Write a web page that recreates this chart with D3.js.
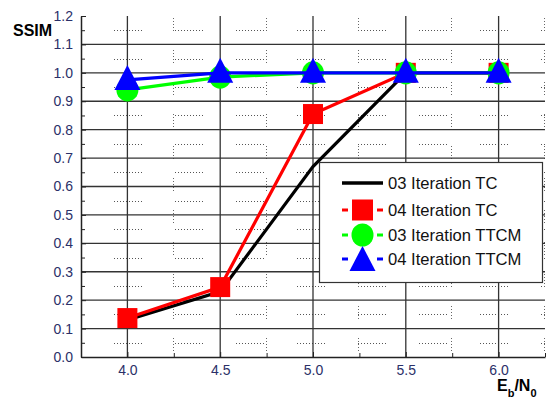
<!DOCTYPE html>
<html>
<head>
<meta charset="utf-8">
<script src="https://cdn.jsdelivr.net/npm/d3@7"></script>
<style>
  body { margin: 0; background: #fff; }
  svg { display: block; font-family: "Liberation Sans", Arial, sans-serif; }
  .tick text { fill: #2b3068; font-size: 14px; }
</style>
</head>
<body>
<script>
const ebno = [4.0, 4.5, 5.0, 5.5, 6.0];
const tc03 = [0.13, 0.23, 0.67, 1.0, 1.0];
const tc04 = [0.137, 0.246, 0.855, 1.0, 1.0];
const ttcm03 = [0.94, 0.985, 1.0, 1.0, 1.0];
const ttcm04 = [0.975, 1.0, 1.0, 1.0, 1.0];

const xMajor = [4.0, 4.5, 5.0, 5.5, 6.0];
const xMinor = [4.25, 4.75, 5.25, 5.75, 6.25];
const yMajor = [0, 0.1, 0.2, 0.3, 0.4, 0.5, 0.6, 0.7, 0.8, 0.9, 1.0, 1.1, 1.2];
const yMinor = [0.05, 0.15, 0.25, 0.35, 0.45, 0.55, 0.65, 0.75, 0.85, 0.95, 1.05, 1.15];

const series = [
  { name: "03 Iteration TC", values: tc03, color: "#000000", marker: null },
  { name: "04 Iteration TC", values: tc04, color: "#ff0000", marker: "square" },
  { name: "03 Iteration TTCM", values: ttcm03, color: "#00ff00", marker: "circle" },
  { name: "04 Iteration TTCM", values: ttcm04, color: "#0000ff", marker: "triangle" }
];

const W = 548, H = 398;
const padL = 81, padR = 545, padT = 16, padB = 357;

const svg = d3.select("body").append("svg")
  .attr("width", W)
  .attr("height", H);

const x = d3.scaleLinear().domain([3.75, 6.25]).range([padL, padR]);
const y = d3.scaleLinear().domain([0, 1.2]).range([padB, padT]);

// dotted minor grid, drawn as groups of dots
const hDash = d3.range(9).map(() => "1,2").join(",") + ",1,33";
const vDash = d3.range(4).map(() => "1,2").join(",") + ",1,19";

svg.append("g")
  .selectAll("line")
  .data(yMinor)
  .join("line")
  .attr("x1", padL)
  .attr("x2", padR)
  .attr("y1", d => Math.round(y(d)) + 0.5)
  .attr("y2", d => Math.round(y(d)) + 0.5)
  .attr("stroke", "#555")
  .attr("stroke-dasharray", hDash)
  .attr("stroke-dashoffset", 28);

svg.append("g")
  .selectAll("line")
  .data(xMinor)
  .join("line")
  .attr("x1", d => Math.round(x(d)) - 0.5)
  .attr("x2", d => Math.round(x(d)) - 0.5)
  .attr("y1", padT)
  .attr("y2", padB)
  .attr("stroke", "#666")
  .attr("stroke-dasharray", vDash)
  .attr("stroke-dashoffset", 30);

// solid major grid
svg.append("g")
  .selectAll("line")
  .data(yMajor.filter(d => d > 0 && d < 1.2))
  .join("line")
  .attr("x1", padL)
  .attr("x2", padR)
  .attr("y1", d => y(d))
  .attr("y2", d => y(d))
  .attr("stroke", "#333")
  .attr("stroke-width", 1.3);

svg.append("g")
  .selectAll("line")
  .data(xMajor)
  .join("line")
  .attr("x1", d => x(d))
  .attr("x2", d => x(d))
  .attr("y1", padT)
  .attr("y2", padB)
  .attr("stroke", "#333")
  .attr("stroke-width", 1.3);

// axes
const yAxis = svg.append("g")
  .attr("transform", `translate(${padL},0)`)
  .call(d3.axisLeft(y).tickValues(yMajor).tickFormat(d3.format(".1f")).tickSize(-5).tickSizeOuter(0).tickPadding(8));
yAxis.select(".domain").attr("stroke", "#222").attr("stroke-width", 1.5);

svg.append("g")
  .attr("transform", `translate(${padL},0)`)
  .call(d3.axisLeft(y).tickValues(yMinor).tickFormat("").tickSize(-4).tickSizeOuter(0))
  .call(g => g.select(".domain").remove());

const xAxis = svg.append("g")
  .attr("transform", `translate(0,${padB})`)
  .call(d3.axisBottom(x).tickValues(xMajor).tickFormat(d3.format(".1f")).tickSize(-5).tickSizeOuter(0).tickPadding(8));
xAxis.select(".domain").attr("stroke", "#222").attr("stroke-width", 1.5);

svg.append("g")
  .attr("transform", `translate(0,${padB})`)
  .call(d3.axisBottom(x).tickValues(xMinor).tickFormat("").tickSize(-4).tickSizeOuter(0))
  .call(g => g.select(".domain").remove());

svg.selectAll(".tick line").attr("stroke", "#222");

// marker shapes
function drawMarker(g, type, cx, cy, color, s) {
  if (type === "square") {
    g.append("rect")
      .attr("x", cx - s.sq / 2).attr("y", cy - s.sq / 2)
      .attr("width", s.sq).attr("height", s.sq)
      .attr("fill", color);
  } else if (type === "circle") {
    g.append("ellipse")
      .attr("cx", cx).attr("cy", cy)
      .attr("rx", s.cr).attr("ry", s.cr * 1.05)
      .attr("fill", color);
  } else if (type === "triangle") {
    const w = s.tw, h = s.th;
    g.append("path")
      .attr("d", `M${cx},${cy - h * 0.6}L${cx + w / 2},${cy + h * 0.4}L${cx - w / 2},${cy + h * 0.4}Z`)
      .attr("fill", color);
  }
}

const line = d3.line()
  .x((d, i) => x(ebno[i]))
  .y(d => y(d));

const plotSize = { sq: 20, cr: 11, tw: 26, th: 25 };

series.forEach(s => {
  const g = svg.append("g");
  g.append("path")
    .datum(s.values)
    .attr("d", line)
    .attr("fill", "none")
    .attr("stroke", s.color)
    .attr("stroke-width", 3.2);
  if (s.marker) {
    s.values.forEach((v, i) => drawMarker(g, s.marker, x(ebno[i]), y(v), s.color, plotSize));
  }
});

// legend
const legend = svg.append("g");
legend.append("rect")
  .attr("x", 319.5).attr("y", 162.5)
  .attr("width", 223).attr("height", 120)
  .attr("fill", "#fff")
  .attr("stroke", "#333")
  .attr("stroke-width", 1.2);

const legendRows = [183, 210, 235, 259];
const legendSize = { sq: 21, cr: 11, tw: 26, th: 25 };
series.forEach((s, i) => {
  const ly = legendRows[i];
  const row = legend.append("g");
  if (s.marker) {
    row.append("line").attr("x1", 342).attr("x2", 348).attr("y1", ly).attr("y2", ly)
      .attr("stroke", s.color).attr("stroke-width", 3);
    row.append("line").attr("x1", 377).attr("x2", 383).attr("y1", ly).attr("y2", ly)
      .attr("stroke", s.color).attr("stroke-width", 3);
    drawMarker(row, s.marker, 362.5, ly + (s.marker === "triangle" ? 2 : 0), s.color, legendSize);
  } else {
    row.append("line").attr("x1", 342).attr("x2", 383).attr("y1", ly).attr("y2", ly)
      .attr("stroke", s.color).attr("stroke-width", 3.5);
  }
  row.append("text")
    .attr("x", 388).attr("y", ly)
    .attr("dy", "0.36em")
    .attr("font-size", 16.6)
    .attr("fill", "#111")
    .text(s.name);
});

// axis titles
svg.append("text")
  .attr("x", 13).attr("y", 36)
  .attr("font-size", 16)
  .attr("font-weight", "bold")
  .text("SSIM");

const xt = svg.append("text")
  .attr("x", 497).attr("y", 391)
  .attr("font-size", 16)
  .attr("font-weight", "bold");
xt.append("tspan").text("E");
xt.append("tspan").attr("font-size", 11).attr("dy", 6).text("b");
xt.append("tspan").attr("dy", -6).text("/N");
xt.append("tspan").attr("font-size", 11).attr("dy", 6).text("0");
</script>
</body>
</html>
